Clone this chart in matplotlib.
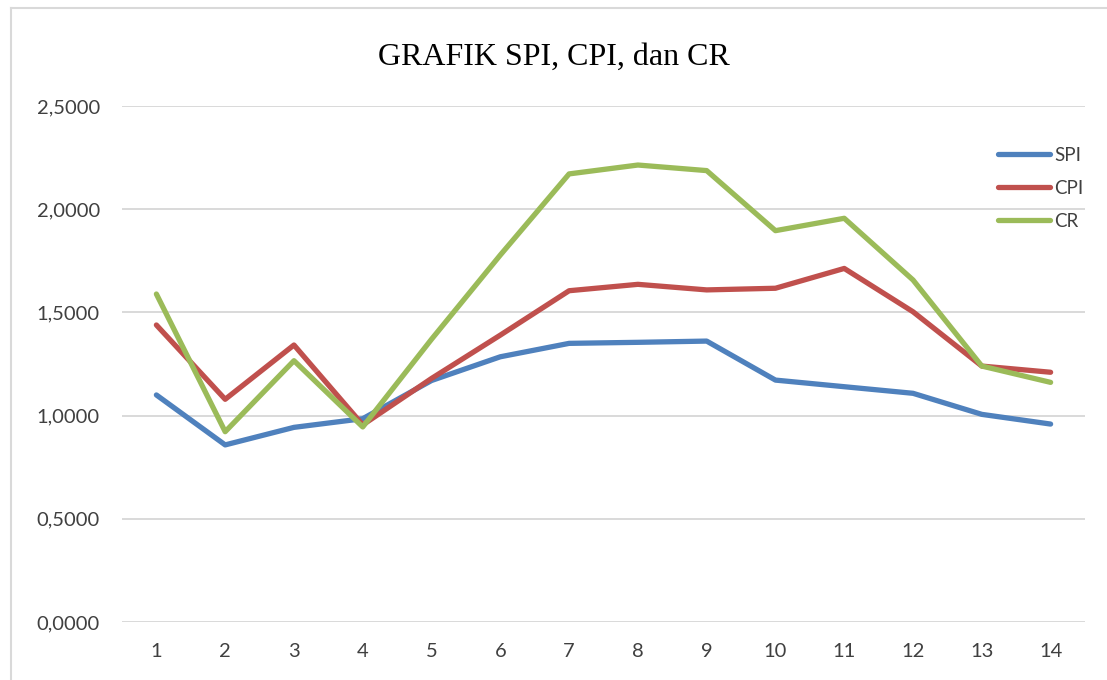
import numpy as np
import matplotlib.pyplot as plt
from matplotlib.lines import Line2D

# data
periode = list(range(1, 15))
spi = [1.100, 0.858, 0.943, 0.985, 1.170, 1.285, 1.350, 1.355, 1.361, 1.172, 1.140, 1.108, 1.006, 0.959]
cpi = [1.439, 1.079, 1.342, 0.955, 1.180, 1.390, 1.605, 1.636, 1.609, 1.617, 1.713, 1.503, 1.240, 1.210]
cr = [1.589, 0.922, 1.266, 0.945, 1.370, 1.778, 2.171, 2.214, 2.187, 1.896, 1.956, 1.657, 1.240, 1.161]
yticks = [0, 0.5, 1.0, 1.5, 2.0, 2.5]

W, H = 1107, 680
fig = plt.figure(figsize=(W / 100, H / 100), dpi=100)
ax = fig.add_axes([122 / W, 58 / H, (1085 - 122) / W, (622 - 106) / H])

ax.plot(periode, spi, color='#4F81BD', lw=3.8, label='SPI', solid_capstyle='round', solid_joinstyle='round')
ax.plot(periode, cpi, color='#C0504D', lw=3.8, label='CPI', solid_capstyle='round', solid_joinstyle='round')
ax.plot(periode, cr, color='#9BBB59', lw=3.8, label='CR', solid_capstyle='round', solid_joinstyle='round')

ax.set_xlim(0.5, 14.5)
ax.set_ylim(0, 2.5)
ax.set_xticks(periode)
ax.set_xticklabels([str(p) for p in periode])
ax.set_yticks(yticks)
ax.set_yticklabels([('%.4f' % v).replace('.', ',') for v in yticks])
ax.tick_params(length=0, labelsize=14.5, labelcolor='#404040')
ax.tick_params(axis='x', pad=15)
ax.tick_params(axis='y', pad=16)
for lab in ax.get_xticklabels() + ax.get_yticklabels():
    lab.set_family('Lato')
ax.grid(axis='y', color='#D9D9D9', lw=1.4)
ax.set_axisbelow(True)
for s in ax.spines.values():
    s.set_visible(False)

leg = ax.legend(loc='upper right', bbox_to_anchor=(1.006, 0.935), frameon=False,
                prop={'family': 'Lato', 'size': 13.5}, handlelength=2.8,
                handletextpad=0.2, labelspacing=0.85, borderaxespad=0)
for t in leg.get_texts():
    t.set_color('#404040')

fig.text(554 / W, 1 - 57 / H, 'GRAFIK SPI, CPI, dan CR', ha='center', va='center',
         family='Liberation Serif', fontsize=23)

# chart frame
fig.add_artist(Line2D([10.5 / W, 10.5 / W], [0, 1 - 7.5 / H], color='#D9D9D9', lw=1.5))
fig.add_artist(Line2D([10.5 / W, 1], [1 - 7.5 / H, 1 - 7.5 / H], color='#D9D9D9', lw=1.5))

fig.savefig('out.png', dpi=100)
